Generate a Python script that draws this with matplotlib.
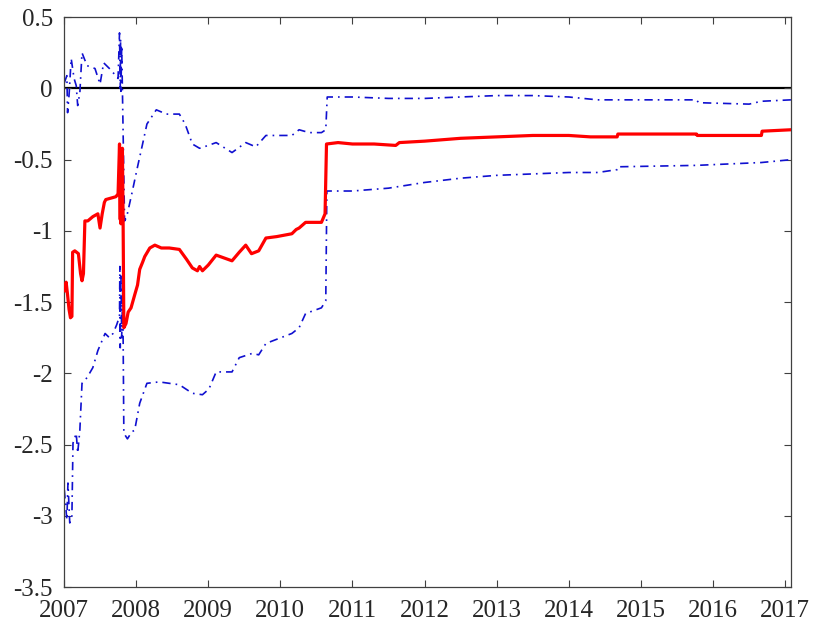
import numpy as np
import matplotlib
matplotlib.use("Agg")
from matplotlib import pyplot as plt
from matplotlib.ticker import FuncFormatter

# point estimate
est_t = [2007.005, 2007.03, 2007.05, 2007.07, 2007.09, 2007.11, 2007.12, 2007.15, 2007.20,
         2007.23, 2007.25, 2007.27, 2007.29, 2007.33, 2007.40, 2007.47, 2007.50, 2007.53,
         2007.56, 2007.58, 2007.65, 2007.72, 2007.75, 2007.77, 2007.78, 2007.785, 2007.79,
         2007.80, 2007.805, 2007.81, 2007.82, 2007.83, 2007.86, 2007.89, 2007.93, 2007.98,
         2008.02, 2008.05, 2008.09, 2008.12, 2008.19, 2008.26, 2008.35, 2008.46, 2008.60,
         2008.70, 2008.78, 2008.85, 2008.88, 2008.92, 2009.00, 2009.11, 2009.22, 2009.33,
         2009.43, 2009.52, 2009.60, 2009.70, 2009.80, 2009.95, 2010.16, 2010.22, 2010.26,
         2010.35, 2010.45, 2010.57, 2010.62, 2010.64, 2010.80, 2011.00, 2011.30, 2011.60,
         2011.65, 2012.00, 2012.50, 2013.00, 2013.50, 2014.00, 2014.30, 2014.67, 2014.68,
         2015.77, 2015.78, 2016.67, 2016.68, 2017.08]
est_v = [-1.42, -1.36, -1.45, -1.55, -1.61, -1.60, -1.15, -1.14, -1.16,
         -1.30, -1.35, -1.30, -0.93, -0.93, -0.90, -0.88, -0.98, -0.88,
         -0.80, -0.78, -0.77, -0.76, -0.74, -0.39, -0.92, -0.45, -0.95,
         -0.50, -0.93, -0.42, -0.94, -1.68, -1.65, -1.57, -1.54, -1.45,
         -1.38, -1.27, -1.22, -1.18, -1.12, -1.10, -1.12, -1.12, -1.13,
         -1.20, -1.26, -1.28, -1.25, -1.28, -1.24, -1.17, -1.19, -1.21,
         -1.15, -1.10, -1.16, -1.14, -1.05, -1.04, -1.02, -0.99, -0.98,
         -0.94, -0.94, -0.94, -0.88, -0.39, -0.38, -0.39, -0.39, -0.40,
         -0.38, -0.37, -0.35, -0.34, -0.33, -0.33, -0.34, -0.34, -0.32,
         -0.32, -0.33, -0.33, -0.30, -0.29]

# upper band
up_t = [2007.005, 2007.04, 2007.05, 2007.07, 2007.10, 2007.14, 2007.17, 2007.19, 2007.22,
        2007.25, 2007.32, 2007.43, 2007.50, 2007.55, 2007.63, 2007.70, 2007.75, 2007.77,
        2007.78, 2007.785, 2007.79, 2007.80, 2007.81, 2007.84, 2007.87, 2007.94, 2008.02,
        2008.09, 2008.15, 2008.28, 2008.42, 2008.60, 2008.68, 2008.78, 2008.88, 2009.00,
        2009.11, 2009.33, 2009.52, 2009.66, 2009.80, 2010.16, 2010.26, 2010.40, 2010.57,
        2010.63, 2010.65, 2011.00, 2011.50, 2012.00, 2012.50, 2013.00, 2013.50, 2014.00,
        2014.40, 2015.00, 2015.77, 2015.80, 2016.50, 2016.67, 2017.08]
up_v = [0.04, 0.09, -0.17, -0.05, 0.21, 0.07, 0.02, -0.12, -0.03,
        0.25, 0.16, 0.14, 0.03, 0.18, 0.14, 0.10, 0.07, 0.39,
        0.00, 0.35, -0.02, 0.30, 0.00, -0.93, -0.90, -0.74, -0.55,
        -0.39, -0.25, -0.15, -0.18, -0.18, -0.25, -0.39, -0.42, -0.40,
        -0.38, -0.45, -0.38, -0.41, -0.33, -0.33, -0.29, -0.31, -0.31,
        -0.29, -0.06, -0.06, -0.07, -0.07, -0.06, -0.05, -0.05, -0.06,
        -0.08, -0.08, -0.08, -0.10, -0.11, -0.09, -0.08]

# lower band
lo_t = [2007.005, 2007.04, 2007.055, 2007.08, 2007.11, 2007.125, 2007.17, 2007.19, 2007.22,
        2007.25, 2007.32, 2007.40, 2007.47, 2007.57, 2007.63, 2007.68, 2007.73, 2007.77,
        2007.775, 2007.78, 2007.79, 2007.80, 2007.815, 2007.83, 2007.88, 2007.94, 2007.98,
        2008.05, 2008.15, 2008.32, 2008.60, 2008.78, 2008.92, 2009.01, 2009.11, 2009.33,
        2009.43, 2009.61, 2009.70, 2009.80, 2010.16, 2010.26, 2010.35, 2010.57, 2010.63,
        2010.645, 2011.00, 2011.50, 2012.00, 2012.50, 2013.00, 2013.50, 2014.00, 2014.40,
        2014.67, 2014.68, 2015.77, 2016.67, 2017.08]
lo_v = [-2.82, -3.03, -2.77, -3.05, -3.00, -2.49, -2.42, -2.56, -2.40,
        -2.07, -2.03, -1.96, -1.84, -1.72, -1.75, -1.72, -1.66, -1.60,
        -1.25, -1.82, -1.30, -1.75, -1.40, -2.42, -2.46, -2.41, -2.40,
        -2.21, -2.07, -2.06, -2.08, -2.14, -2.15, -2.11, -1.99, -1.99,
        -1.89, -1.86, -1.87, -1.79, -1.72, -1.68, -1.58, -1.54, -1.49,
        -0.72, -0.72, -0.70, -0.66, -0.63, -0.61, -0.60, -0.59, -0.59,
        -0.57, -0.55, -0.54, -0.52, -0.50]

years = list(range(2007, 2018))
yticks = [-3.5, -3, -2.5, -2, -1.5, -1, -0.5, 0, 0.5]

plt.rcParams["font.family"] = ["Liberation Serif", "DejaVu Serif"]
plt.rcParams["axes.unicode_minus"] = False

fig = plt.figure(figsize=(8.15, 6.31), dpi=100)
ax = fig.add_axes([0.0785, 0.0697, 0.892, 0.903])

dashdot = (0, (5, 3, 1, 3))
ax.axhline(0, color="black", lw=1.6, zorder=1)
ax.plot(est_t, est_v, color="red", lw=2.3, zorder=3)
ax.plot(up_t, up_v, color="#1010d0", lw=1.2, ls=dashdot, zorder=2)
ax.plot(lo_t, lo_v, color="#1010d0", lw=1.2, ls=dashdot, zorder=2)

ax.set_xlim(2007, 2017.08)
ax.set_ylim(-3.5, 0.5)
ax.set_xticks(years)
ax.set_yticks(yticks)
ax.yaxis.set_major_formatter(FuncFormatter(lambda v, p: "%g" % v))
ax.xaxis.set_major_formatter(FuncFormatter(lambda v, p: "%d" % v))

ax.tick_params(direction="in", length=5, width=0.8, color="#404040",
               top=True, right=True, labelsize=18, colors="#262626")
ax.tick_params(axis="x", pad=9)
ax.tick_params(axis="y", pad=8)
for s in ax.spines.values():
    s.set_color("#404040")
    s.set_linewidth(0.9)

fig.savefig("out.png", dpi=100)
